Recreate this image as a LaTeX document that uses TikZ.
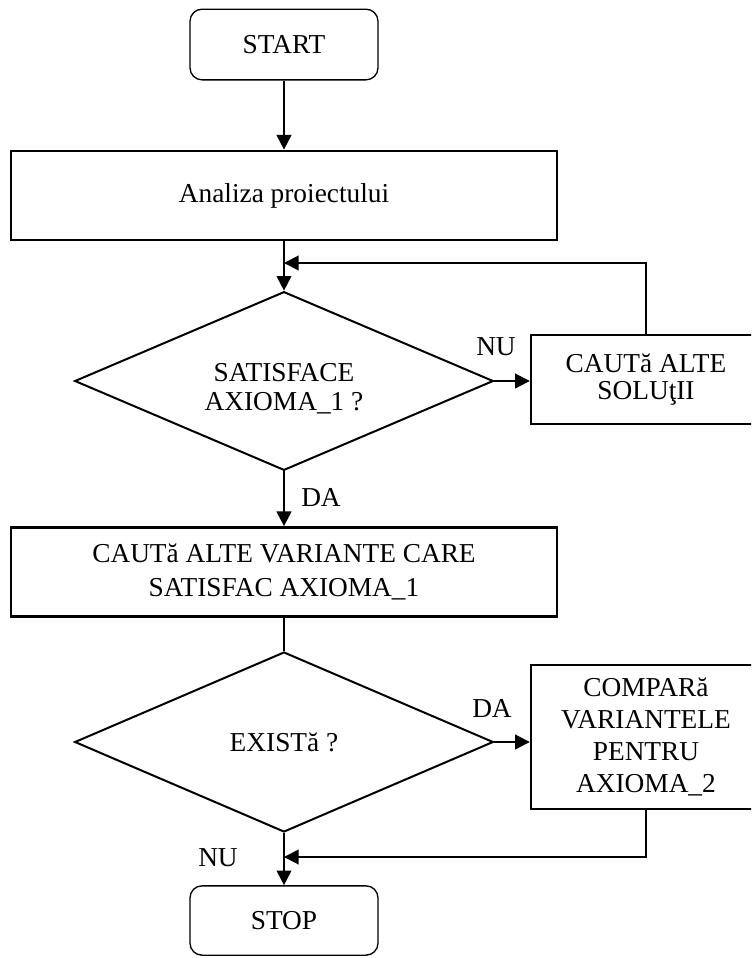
\documentclass[tikz,border=0pt]{standalone}
\usepackage{fontspec}
\setmainfont{Liberation Serif}
\usetikzlibrary{shapes.geometric,arrows.meta}
\begin{document}
\begin{tikzpicture}[x=0.75pt,y=-0.75pt,
  every node/.style={font=\fontsize{20.5}{24}\selectfont, align=center, inner sep=0pt},
  terminal/.style={draw, line width=1pt, rounded corners=9pt, minimum width=141pt, minimum height=53pt},
  process/.style={draw, line width=1.8pt, minimum width=409.5pt, minimum height=67pt},
  sidebox/.style={draw, line width=1.8pt, minimum width=172.5pt},
  decision/.style={draw, diamond, aspect=2.35, line width=1.5pt, minimum width=314pt, minimum height=134pt},
  flow/.style={line width=1.5pt, -{Triangle[length=11pt,width=11pt]}},
  plain/.style={line width=1.5pt},
  tag/.style={font=\fontsize{20.5}{24}\selectfont}]
\useasboundingbox (0,0) rectangle (751,958);
\clip (0,0) rectangle (751,958);

% main column
\node[terminal] (start) at (284,44.5) {START};
\node[process] (analiza) at (284,195.5) {Analiza proiectului};
\node[decision] (d1) at (284,381) {};
\node[font=\fontsize{20.5}{22}\selectfont] (d1text) at (284,388.5) {SATISFACE\\AXIOMA\_1 ?};
\node[process, font=\fontsize{20.5}{25.5}\selectfont] (cauta) at (284,572) {CAUTă ALTE VARIANTE CARE\\SATISFAC AXIOMA\_1};
\node[decision, minimum height=135pt] (d2) at (284,742) {EXISTă ?};
\node[terminal, minimum height=52pt] (stop) at (284,920.5) {STOP};

% side column
\node[sidebox, minimum height=67pt, font=\fontsize{20.5}{20.6}\selectfont] (alte) at (646,379.5) {CAUTă ALTE\\SOLUţII};
\node[sidebox, minimum height=108pt, font=\fontsize{20.5}{24}\selectfont] (compara) at (646,737) {COMPARă\\VARIANTELE\\PENTRU\\AXIOMA\_2};

% junctions where the return lines join the column
\coordinate (j1) at (284,263);
\coordinate (j2) at (284,857);

% connectors
\draw[flow] (start) -- (analiza);
\draw[flow] (analiza) -- (d1);
\draw[flow] (alte.north) |- (j1);
\draw[flow] (d1.east) -- (d1.east -| alte.west);
\draw[flow] (d1) -- (cauta);
\draw[plain] (cauta) -- (d2);
\draw[flow] (d2.east) -- (d2.east -| compara.west);
\draw[flow] (compara.south) |- (j2);
\draw[flow] (d2) -- (stop);

% branch labels
\node[tag] (nu1) at (496,347) {NU};
\node[tag] (da1) at (321,497) {DA};
\node[tag] (da2) at (492,708) {DA};
\node[tag] (nu2) at (218,858) {NU};
\end{tikzpicture}
\end{document}
